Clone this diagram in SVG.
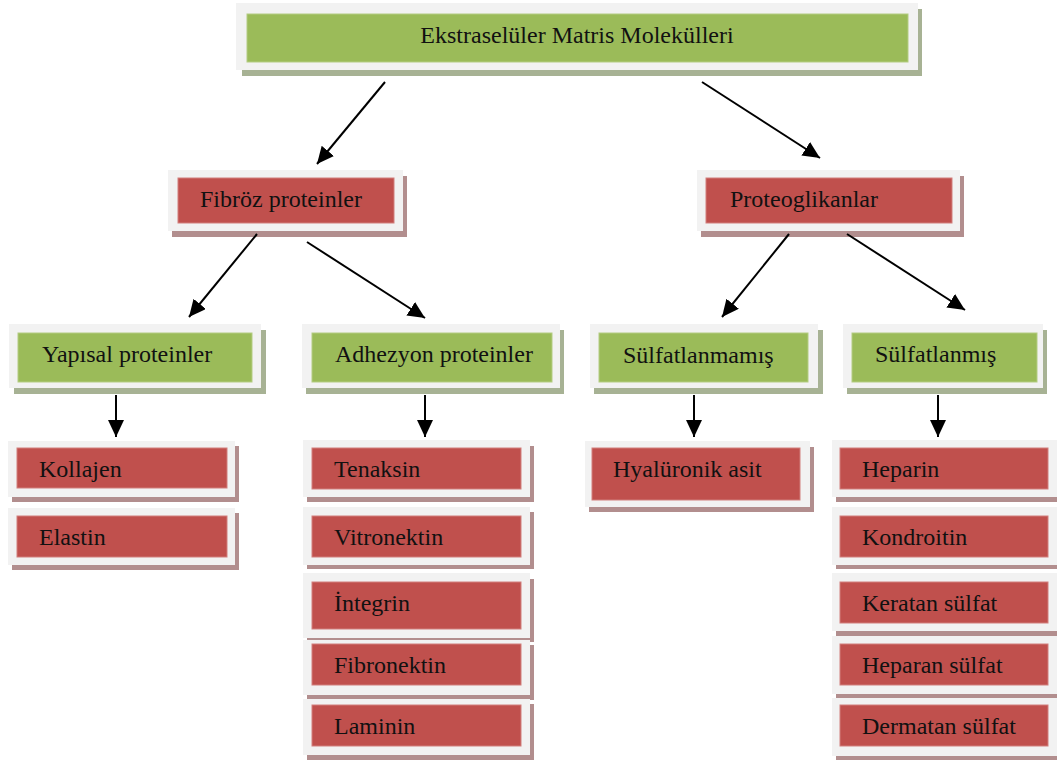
<svg xmlns="http://www.w3.org/2000/svg" width="1057" height="760" viewBox="0 0 1057 760">
<defs>
<style>
.fr{fill:#f2f2f2}
.sg{fill:#a7b294}
.sr{fill:#b28e8e}
.g{fill:#9bbb59;stroke:#b3cc82;stroke-width:1}
.r{fill:#c0504d;stroke:#d17f7d;stroke-width:1}
text{font-family:"Liberation Serif","Times New Roman",serif;font-size:24px;fill:#111}
.c{stroke:#000;stroke-width:2;fill:none;marker-end:url(#ah)}
</style>
<marker id="ah" markerUnits="userSpaceOnUse" markerWidth="17" markerHeight="16" refX="17" refY="8" orient="auto">
<path d="M0,0 L17,8 L0,16 z" fill="#000"/>
</marker>
</defs>
<rect width="1057" height="760" fill="#fff"/>

<g id="n-top">
<rect class="sg" x="242" y="9" width="680" height="67"/>
<rect class="fr" x="236" y="3" width="682" height="67"/>
<rect class="g" x="247" y="14" width="661" height="48"/>
<text x="577" y="43" text-anchor="middle">Ekstraselüler Matris Molekülleri</text>
</g>

<g id="n-fibroz">
<rect class="sr" x="172" y="176" width="235" height="61"/>
<rect class="fr" x="168" y="170" width="235" height="61"/>
<rect class="r" x="178" y="178" width="216" height="45"/>
<text x="200" y="207">Fibröz proteinler</text>
</g>

<g id="n-proteo">
<rect class="sr" x="701" y="176" width="263" height="61"/>
<rect class="fr" x="697" y="170" width="263" height="61"/>
<rect class="r" x="706" y="178" width="246" height="45"/>
<text x="730" y="207">Proteoglikanlar</text>
</g>

<g id="n-yapisal">
<rect class="sg" x="14" y="330" width="252" height="64"/>
<rect class="fr" x="9" y="324" width="252" height="64"/>
<rect class="g" x="18" y="333" width="234" height="49"/>
<text x="42" y="362">Yapısal proteinler</text>
</g>

<g id="n-adhezyon">
<rect class="sg" x="306" y="330" width="258" height="64"/>
<rect class="fr" x="302" y="324" width="258" height="64"/>
<rect class="g" x="312" y="333" width="240" height="49"/>
<text x="335" y="362">Adhezyon proteinler</text>
</g>

<g id="n-sulfatlanmamis">
<rect class="sg" x="594" y="330" width="229" height="64"/>
<rect class="fr" x="590" y="324" width="228" height="64"/>
<rect class="g" x="599" y="333" width="209" height="49"/>
<text x="623" y="363">Sülfatlanmamış</text>
</g>

<g id="n-sulfatlanmis">
<rect class="sg" x="847" y="330" width="200" height="64"/>
<rect class="fr" x="843" y="324" width="200" height="64"/>
<rect class="g" x="852" y="333" width="185" height="49"/>
<text x="875" y="362">Sülfatlanmış</text>
</g>

<g id="n-kollajen">
<rect class="sr" x="12" y="446" width="227" height="56"/>
<rect class="fr" x="8" y="441" width="227" height="56"/>
<rect class="r" x="17" y="448" width="210" height="40"/>
<text x="39" y="477">Kollajen</text>
</g>
<g id="n-elastin">
<rect class="sr" x="12" y="513" width="227" height="57"/>
<rect class="fr" x="8" y="508" width="227" height="57"/>
<rect class="r" x="17" y="516" width="210" height="41"/>
<text x="39" y="545">Elastin</text>
</g>

<g id="n-tenaksin">
<rect class="sr" x="307" y="446" width="227" height="56"/>
<rect class="fr" x="303" y="440" width="227" height="57"/>
<rect class="r" x="312" y="448" width="209" height="41"/>
<text x="334" y="477">Tenaksin</text>
</g>
<g id="n-vitronektin">
<rect class="sr" x="307" y="512" width="227" height="57"/>
<rect class="fr" x="303" y="507" width="227" height="58"/>
<rect class="r" x="312" y="516" width="209" height="41"/>
<text x="334" y="545">Vitronektin</text>
</g>
<g id="n-integrin">
<rect class="sr" x="307" y="579" width="227" height="63"/>
<rect class="fr" x="303" y="573" width="227" height="65"/>
<rect class="r" x="312" y="582" width="209" height="47"/>
<text x="334" y="611">İntegrin</text>
</g>
<g id="n-fibronektin">
<rect class="sr" x="307" y="645" width="227" height="55"/>
<rect class="fr" x="303" y="640" width="227" height="55"/>
<rect class="r" x="312" y="644" width="209" height="41"/>
<text x="334" y="673">Fibronektin</text>
</g>
<g id="n-laminin">
<rect class="sr" x="307" y="704" width="227" height="56"/>
<rect class="fr" x="303" y="699" width="227" height="56"/>
<rect class="r" x="312" y="705" width="209" height="41"/>
<text x="334" y="734">Laminin</text>
</g>

<g id="n-hyaluronik">
<rect class="sr" x="589" y="447" width="225" height="65"/>
<rect class="fr" x="585" y="441" width="225" height="66"/>
<rect class="r" x="592" y="448" width="208" height="52"/>
<text x="613" y="477">Hyalüronik asit</text>
</g>

<g id="n-heparin">
<rect class="sr" x="836" y="446" width="225" height="56"/>
<rect class="fr" x="832" y="440" width="225" height="57"/>
<rect class="r" x="840" y="448" width="208" height="41"/>
<text x="862" y="477">Heparin</text>
</g>
<g id="n-kondroitin">
<rect class="sr" x="836" y="512" width="225" height="57"/>
<rect class="fr" x="832" y="507" width="225" height="58"/>
<rect class="r" x="840" y="516" width="208" height="41"/>
<text x="862" y="545">Kondroitin</text>
</g>
<g id="n-keratan">
<rect class="sr" x="836" y="579" width="225" height="57"/>
<rect class="fr" x="832" y="573" width="225" height="58"/>
<rect class="r" x="840" y="582" width="208" height="41"/>
<text x="862" y="611">Keratan sülfat</text>
</g>
<g id="n-heparan">
<rect class="sr" x="836" y="641" width="225" height="57"/>
<rect class="fr" x="832" y="636" width="225" height="58"/>
<rect class="r" x="840" y="644" width="208" height="41"/>
<text x="862" y="673">Heparan sülfat</text>
</g>
<g id="n-dermatan">
<rect class="sr" x="836" y="703" width="225" height="57"/>
<rect class="fr" x="832" y="698" width="225" height="58"/>
<rect class="r" x="840" y="705" width="208" height="41"/>
<text x="862" y="734">Dermatan sülfat</text>
</g>

<g id="connectors">
<line class="c" x1="385" y1="82" x2="317" y2="164"/>
<line class="c" x1="702" y1="82" x2="820" y2="158"/>
<line class="c" x1="257" y1="234" x2="189" y2="317"/>
<line class="c" x1="307" y1="242" x2="425" y2="318"/>
<line class="c" x1="789" y1="234" x2="722" y2="317"/>
<line class="c" x1="847" y1="234" x2="965" y2="310"/>
<line class="c" x1="116" y1="395" x2="116" y2="437"/>
<line class="c" x1="425" y1="395" x2="425" y2="437"/>
<line class="c" x1="694" y1="395" x2="694" y2="437"/>
<line class="c" x1="938" y1="395" x2="938" y2="437"/>
</g>
</svg>
